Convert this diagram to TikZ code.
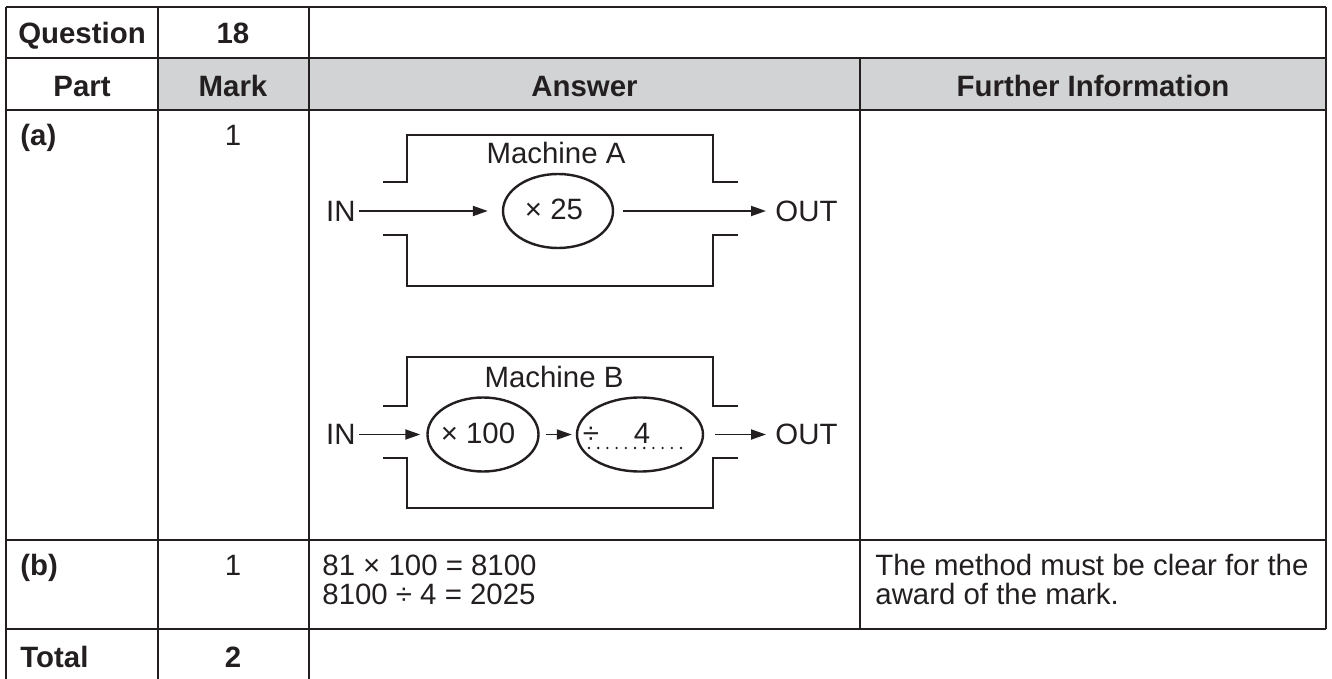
\documentclass[tikz,border=0pt]{standalone}
\usepackage{fontspec}
\setmainfont{Liberation Sans}
\usetikzlibrary{shapes.geometric,arrows.meta}
\definecolor{ink}{HTML}{231F20}
\definecolor{hdr}{HTML}{D1D3D4}
\begin{document}
\begin{tikzpicture}[x=0.5pt,y=-0.5pt,
  font=\fontsize{14.7}{15}\selectfont, text=ink,
  grid/.style={draw=ink, line width=0.9pt},
  mach/.style={draw=ink, line width=1.25pt},
  flow/.style={draw=ink, line width=0.95pt, -{Triangle[length=7.5pt,width=5pt]}},
  oval/.style={ellipse, draw=ink, line width=1.2pt, inner sep=0pt, minimum height=37pt},
  txt/.style={inner sep=0pt, anchor=base},
  ltxt/.style={inner sep=0pt, anchor=base west},
  hd/.style={inner sep=0pt, anchor=base, font=\fontsize{14.7}{15}\selectfont\bfseries},
  lhd/.style={inner sep=0pt, anchor=base west, font=\fontsize{14.7}{15}\selectfont\bfseries},
  io/.style={inner sep=0pt}
]
\useasboundingbox (0,0) rectangle (1332,679);
% header fill
\fill[hdr] (158,58) rectangle (1326,110);
% table grid
\draw[grid] (6,7) -- (1326,7);
\draw[grid] (6,58) -- (1326,58);
\draw[grid] (6,110) -- (1326,110);
\draw[grid] (6,540) -- (1326,540);
\draw[grid] (6,629) -- (1326,629);
\draw[grid] (6,7) -- (6,679);
\draw[grid] (158,7) -- (158,679);
\draw[grid] (309,7) -- (309,679);
\draw[grid] (860,58) -- (860,629);
\draw[grid] (1326,7) -- (1326,629);
% header texts
\node[hd] (tq) at (82,44) {Question};
\node[hd] (t18) at (233,44) {18};
\node[hd] (tpart) at (82,97) {Part};
\node[hd] (tmark) at (233,97) {Mark};
\node[hd] (tans) at (584.5,97) {Answer};
\node[hd] (tfi) at (1093,97) {Further Information};
% part (a)
\node[lhd] (pa) at (20,146) {(a)};
\node[txt] (ma) at (233,146) {1};
% Machine A
\draw[mach] (383,182) -- (407,182) -- (407,135) -- (713,135) -- (713,182) -- (738,182);
\draw[mach] (383,235) -- (407,235) -- (407,286) -- (713,286) -- (713,235) -- (738,235);
\node[txt] (labA) at (556,164) {Machine A};
\node[io, anchor=east] (inA) at (356,211) {IN};
\node[oval, minimum width=55pt] (ovA) at (558,211) {};
\node[txt] (tA) at (554,220) {× 25};
\node[io, anchor=west] (outA) at (775,211) {OUT};
\draw[flow, shorten <=1.5pt, shorten >=7pt] (inA.east) -- (ovA.west);
\draw[flow, shorten <=4.5pt, shorten >=4.5pt] (ovA.east) -- (outA.west);
% Machine B
\draw[mach] (383,406) -- (407,406) -- (407,357) -- (713,357) -- (713,406) -- (738,406);
\draw[mach] (383,458) -- (407,458) -- (407,508) -- (713,508) -- (713,458) -- (738,458);
\node[txt] (labB) at (554,387) {Machine B};
\node[io, anchor=east] (inB) at (356,434.5) {IN};
\node[oval, minimum width=55.5pt] (ovB1) at (483,434.5) {};
\node[oval, minimum width=63pt] (ovB2) at (640,434.5) {};
\node[txt] (tB1) at (478,443) {× 100};
\node[txt] (tdiv) at (591,443) {÷};
\node[txt] (tfour) at (642,443) {4};
\coordinate (dotL) at (589,448);
\coordinate (dotR) at (690,448);
\draw[ink, line width=1.3pt, line cap=round, dash pattern=on 0pt off 4.6pt] (dotL) -- (dotR);
\node[io, anchor=west] (outB) at (775,434.5) {OUT};
\draw[flow, shorten <=1.5pt, shorten >=3pt] (inB.east) -- (ovB1.west);
\draw[flow, shorten <=3.3pt, shorten >=2pt] (ovB1.east) -- (ovB2.west);
\draw[flow, shorten <=5.5pt, shorten >=4.5pt] (ovB2.east) -- (outB.west);
% part (b)
\node[lhd] (pb) at (20,575) {(b)};
\node[txt] (mb) at (233,575) {1};
\node[ltxt] (ans1) at (322,575) {81 × 100 = 8100};
\node[ltxt] (ans2) at (322,604) {8100 ÷ 4 = 2025};
\node[ltxt] (fi1) at (875,575) {The method must be clear for the};
\node[ltxt] (fi2) at (875,604) {award of the mark.};
% total
\node[lhd] (tot) at (20,667) {Total};
\node[hd] (tot2) at (233,667) {2};
\end{tikzpicture}
\end{document}
